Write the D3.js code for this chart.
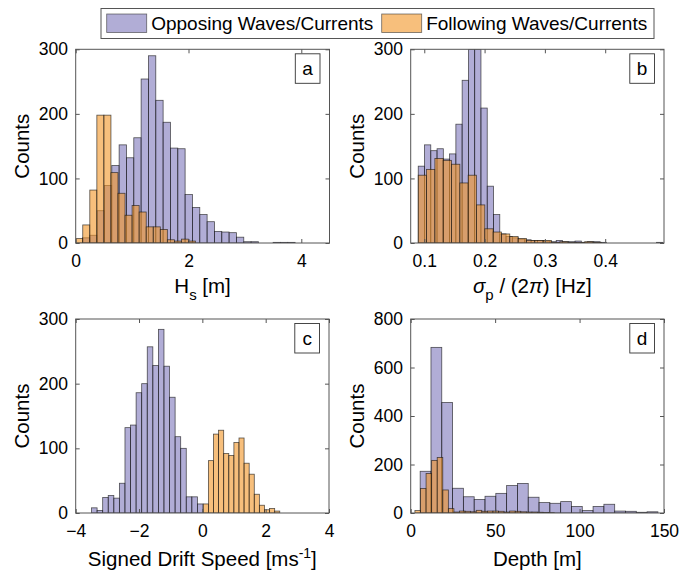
<!DOCTYPE html>
<html><head><meta charset="utf-8">
<script src="https://cdn.jsdelivr.net/npm/d3@7"></script>
<style>
body{margin:0;background:#fff}
svg{display:block}
text{font-family:"Liberation Sans",Arial,Helvetica,sans-serif;fill:#000}
</style>
</head><body>
<svg id="chart" width="680" height="574"></svg>
<script>
// ---------------- DATA ----------------
const seriesNames = ["Opposing Waves/Currents", "Following Waves/Currents"];

// Panel a: significant wave height Hs [m]
const hsOppStart = 0.12, hsOppWidth = 0.13;
const hsOpp = [8,12,50,89,120,152,132,163,254,290,221,187,147,146,75,55,44,33,18,17,16,9,2,2,0,0,1,1,1];
const hsFolStart = 0, hsFolWidth = 0.125;
const hsFol = [7,28,82,198,198,109,77,43,58,48,25,25,21,5,3,6,3];

// Panel b: peak frequency sigma_p/(2pi) [Hz]
const fpOppStart = 0.09, fpOppWidth = 0.0104;
const fpOpp = [119,152,143,146,130,138,184,252,300,300,209,88,44,14,10,8,6,5,4,4,3,2,4,2,2,3,1,2,2,1,0,0,0,0,0,0,0,0,1];
const fpFolStart = 0.09, fpFolWidth = 0.0138;
const fpFol = [105,114,131,128,122,93,105,59,22,17,14,10,7,4,4,4,1,2,1,1,2,1];

// Panel c: signed drift speed [m/s]
const sdOppStart = -3.5, sdOppWidth = 0.176;
const sdOpp = [8,4,24,27,23,46,132,136,186,200,257,228,284,227,179,118,100,25,25,14];
const sdFolStart = 0.03, sdFolWidth = 0.161;
const sdFol = [14,81,122,128,92,89,109,116,77,60,29,12,5,7,3];

// Panel d: depth [m]
const dOppStart = 5.6, dOppWidth = 6.4;
const dOpp = [172,683,456,102,67,56,69,81,113,122,65,43,40,47,27,10,27,36,8,7,3,5];
const dFolStart = 2.5, dFolWidth = 3.3;
const dFol = [10,101,163,217,229,95,18,4,8,7,5,11,7,8,8,7,4,8,7,5,4,4,3,2,1];

// Axis ticks
const hsTicks = [0,2,4];
const fpTicks = [0.1,0.2,0.3,0.4];
const sdTicks = [-4,-2,0,2,4];
const dTicks = [0,50,100,150];
const countTicks300 = [0,100,200,300];
const countTicks800 = [0,200,400,600,800];
const panelLetters = ["a","b","c","d"];

// ---------------- STYLE / LAYOUT ----------------
const oppFill = "rgb(125,118,186)";
const folFill = "rgb(241,148,36)";
const faceAlpha = 0.6;
const edgeColor = "#111";
const axisColor = "#555";
const tickFont = 17.5, labelFont = 20.5, legendFont = 19;

const svg = d3.select("#chart");

const panels = [
  {box:[75.7,49.3,329.5,243], xd:[0,4.5], xt:hsTicks, fmt:d3.format("d"), yd:[0,300], yt:countTicks300,
   opp:[hsOppStart,hsOppWidth,hsOpp], fol:[hsFolStart,hsFolWidth,hsFol], label:"hs"},
  {box:[410.7,49.3,664,243], xd:[0.0775,0.4975], xt:fpTicks, fmt:d3.format(".1f"), yd:[0,300], yt:countTicks300,
   opp:[fpOppStart,fpOppWidth,fpOpp], fol:[fpFolStart,fpFolWidth,fpFol], label:"fp"},
  {box:[75.7,319,329,513], xd:[-4,4], xt:sdTicks, fmt:d3.format("d"), yd:[0,300], yt:countTicks300,
   opp:[sdOppStart,sdOppWidth,sdOpp], fol:[sdFolStart,sdFolWidth,sdFol], label:"sd"},
  {box:[410.7,319,664,513], xd:[0,150], xt:dTicks, fmt:d3.format("d"), yd:[0,800], yt:countTicks800,
   opp:[dOppStart,dOppWidth,dOpp], fol:[dFolStart,dFolWidth,dFol], label:"d"}
];

panels.forEach((p,pi)=>{
  const [L,T,R,B] = p.box;
  const x = d3.scaleLinear().domain(p.xd).range([L,R]);
  const y = d3.scaleLinear().domain(p.yd).range([B,T]);
  const g = svg.append("g");
  const cid = "clip"+pi;
  g.append("clipPath").attr("id",cid).append("rect")
    .attr("x",L).attr("y",T).attr("width",R-L).attr("height",B-T);

  const drawSeries = (spec, fill) => {
    const [start,w,counts] = spec;
    const bins = counts.map((c,i)=>({x0:start+i*w, x1:start+(i+1)*w, c})).filter(d=>d.c>0);
    g.append("g").attr("clip-path",`url(#${cid})`)
      .selectAll("rect").data(bins).join("rect")
      .attr("x",d=>x(d.x0)).attr("width",d=>x(d.x1)-x(d.x0))
      .attr("y",d=>y(d.c)).attr("height",d=>y(0)-y(d.c))
      .attr("fill",fill).attr("fill-opacity",faceAlpha)
      .attr("stroke",edgeColor).attr("stroke-opacity",0.7).attr("stroke-width",0.8);
  };
  drawSeries(p.opp, oppFill);
  drawSeries(p.fol, folFill);

  // axes
  const ax = (gen, tr) => {
    const a = g.append("g").attr("transform",tr).call(gen);
    a.select(".domain").remove();
    a.selectAll("line").attr("stroke",axisColor);
    a.selectAll("text").attr("font-size",tickFont).attr("fill","#000")
      .style("font-family",'"Liberation Sans",Arial,Helvetica,sans-serif');
    return a;
  };
  ax(d3.axisBottom(x).tickValues(p.xt).tickFormat(p.fmt).tickSize(-4).tickPadding(11.5), `translate(0,${B})`);
  ax(d3.axisTop(x).tickValues(p.xt).tickFormat("").tickSize(-4), `translate(0,${T})`);
  ax(d3.axisLeft(y).tickValues(p.yt).tickSize(-4).tickPadding(7.7), `translate(${L},0)`);
  ax(d3.axisRight(y).tickValues(p.yt).tickFormat("").tickSize(-4), `translate(${R},0)`);
  g.append("rect").attr("x",L).attr("y",T).attr("width",R-L).attr("height",B-T)
    .attr("fill","none").attr("stroke",axisColor).attr("stroke-width",1);

  // y label
  const cy = (T+B)/2;
  g.append("text").attr("transform",`translate(${L-46.7},${cy}) rotate(-90)`)
    .attr("text-anchor","middle").attr("font-size",labelFont).text("Counts");

  // x label
  const cx = (L+R)/2;
  const lab = g.append("text").attr("x",cx).attr("y",B+50).attr("text-anchor","middle").attr("font-size",labelFont);
  if (p.label==="hs") {
    lab.append("tspan").text("H");
    lab.append("tspan").attr("font-size",15).attr("dy",7).text("s");
    lab.append("tspan").attr("dy",-7).text(" [m]");
  } else if (p.label==="fp") {
    lab.attr("x",cx-5);
    lab.append("tspan").attr("font-style","italic").text("σ");
    lab.append("tspan").attr("font-size",15).attr("dy",7).text("p");
    lab.append("tspan").attr("dy",-7).text(" / (2");
    lab.append("tspan").attr("font-style","italic").text("π");
    lab.append("tspan").text(") [Hz]");
  } else if (p.label==="sd") {
    lab.attr("y",B+53);
    lab.append("tspan").text("Signed Drift Speed [ms");
    lab.append("tspan").attr("font-size",14).attr("dy",-8).text("-1");
    lab.append("tspan").attr("dy",8).text("]");
  } else {
    lab.attr("y",B+53).text("Depth [m]");
  }

  // panel letter box
  const bw = 24.7, bh = 29.5;
  const bx = R-9.5-bw, by = T+4.5;
  g.append("rect").attr("x",bx).attr("y",by).attr("width",bw).attr("height",bh)
    .attr("fill","#fff").attr("stroke","#333").attr("stroke-width",0.9);
  g.append("text").attr("x",bx+bw/2).attr("y",by+bh/2+6.5).attr("text-anchor","middle")
    .attr("font-size",19).text(panelLetters[pi]);
});

// legend
const lg = svg.append("g");
lg.append("rect").attr("x",101).attr("y",8.5).attr("width",553).attr("height",30)
  .attr("fill","#fff").attr("stroke","#555").attr("stroke-width",1);
const legendItems = [
  {name:seriesNames[0], fill:oppFill, px:106.7},
  {name:seriesNames[1], fill:folFill, px:381.7}
];
legendItems.forEach(it=>{
  lg.append("rect").attr("x",it.px).attr("y",14).attr("width",40).attr("height",18.5)
    .attr("fill",it.fill).attr("fill-opacity",faceAlpha).attr("stroke","#333").attr("stroke-opacity",0.7).attr("stroke-width",0.8);
  lg.append("text").attr("x",it.px+44.5).attr("y",30).attr("font-size",legendFont).text(it.name);
});
</script>
</body></html>
